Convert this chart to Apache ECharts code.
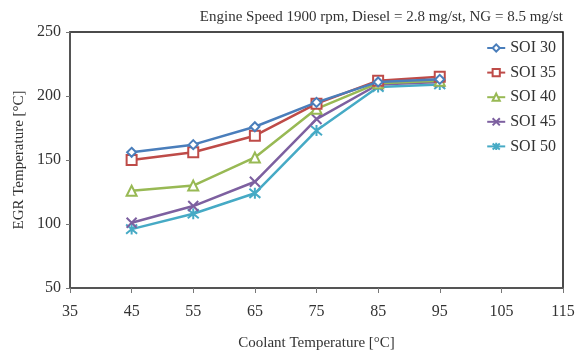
<!DOCTYPE html>
<html>
<head>
<meta charset="utf-8">
<script src="https://cdn.jsdelivr.net/npm/echarts@6/dist/echarts.min.js"></script>
<style>
  html, body { margin: 0; padding: 0; background: #fff; }
  #chart { width: 583px; height: 356px; }
</style>
</head>
<body>
<div id="chart"></div>
<script>
// Coolant temperature (°C) on the x axis
const coolantTemp = [45, 55, 65, 75, 85, 95];

// EGR temperature (°C) for each start-of-injection timing
const soi30 = [156, 162, 176, 195, 211, 213];
const soi35 = [150, 156, 169, 194, 212, 215];
const soi40 = [126, 130, 152, 190, 210, 212];
const soi45 = [101, 114, 133, 182, 209, 211];
const soi50 = [96, 108, 124, 173, 207, 209];

const seriesNames = ['SOI 30', 'SOI 35', 'SOI 40', 'SOI 45', 'SOI 50'];
const seriesColors = ['#4a7ebb', '#be4b48', '#98b954', '#7d60a0', '#46aac5'];

const titleText = 'Engine Speed 1900 rpm, Diesel = 2.8 mg/st, NG = 8.5 mg/st';
const xName = 'Coolant Temperature [°C]';
const yName = 'EGR Temperature [°C]';

const serif = '"Liberation Serif", "Times New Roman", serif';
const textColor = '#333';

const symbols = [
  'diamond',
  'rect',
  'triangle',
  'path://M0,0L10,10M10,0L0,10',
  'path://M0,0L10,10M10,0L0,10M5,-1L5,11'
];
const symbolSizes = [9, 10, 10, 10, 11];

const allValues = [soi30, soi35, soi40, soi45, soi50];

const series = allValues.map((vals, i) => ({
  name: seriesNames[i],
  type: 'line',
  data: coolantTemp.map((x, j) => [x, vals[j]]),
  symbol: symbols[i],
  symbolSize: symbolSizes[i],
  showAllSymbol: true,
  lineStyle: { color: seriesColors[i], width: 2.5 },
  itemStyle: {
    color: i < 3 ? '#ffffff' : 'rgba(0,0,0,0)',
    borderColor: seriesColors[i],
    borderWidth: 2
  },
  emphasis: { disabled: true },
  z: 10 - i
}));

const chart = echarts.init(document.getElementById('chart'), null, { renderer: 'canvas' });
chart.setOption({
  animation: false,
  backgroundColor: '#ffffff',
  textStyle: { fontFamily: serif },
  title: {
    text: titleText,
    right: 15,
    top: 5,
    textStyle: { fontFamily: serif, fontWeight: 'normal', fontSize: 15, color: textColor }
  },
  legend: {
    orient: 'vertical',
    right: 22,
    top: 35,
    itemWidth: 18,
    itemHeight: 9,
    itemGap: 8.6,
    textStyle: { fontFamily: serif, fontSize: 16, color: textColor },
    data: seriesNames
  },
  grid: {
    left: 70,
    right: 20,
    top: 32,
    bottom: 65,
    show: true,
    borderColor: '#111',
    borderWidth: 1.5,
    backgroundColor: 'transparent'
  },
  xAxis: {
    type: 'value',
    min: 35,
    max: 115,
    interval: 10,
    name: xName,
    nameLocation: 'middle',
    nameGap: 48,
    nameTextStyle: { fontFamily: serif, fontSize: 15, color: textColor },
    axisLine: { show: true, lineStyle: { color: '#555', width: 2 } },
    axisTick: { show: true, inside: false, length: 5, lineStyle: { color: '#777' } },
    axisLabel: { fontFamily: serif, fontSize: 16, color: textColor, margin: 16 },
    splitLine: { show: false }
  },
  yAxis: {
    type: 'value',
    min: 50,
    max: 250,
    interval: 50,
    name: yName,
    nameLocation: 'middle',
    nameGap: 40,
    nameTextStyle: { fontFamily: serif, fontSize: 15, color: textColor },
    axisLine: { show: true, lineStyle: { color: '#555', width: 2 } },
    axisTick: { show: true, inside: false, length: 4, lineStyle: { color: '#777' } },
    axisLabel: { fontFamily: serif, fontSize: 16, color: textColor, margin: 9 },
    splitLine: { show: false }
  },
  series: series
});
</script>
</body>
</html>
